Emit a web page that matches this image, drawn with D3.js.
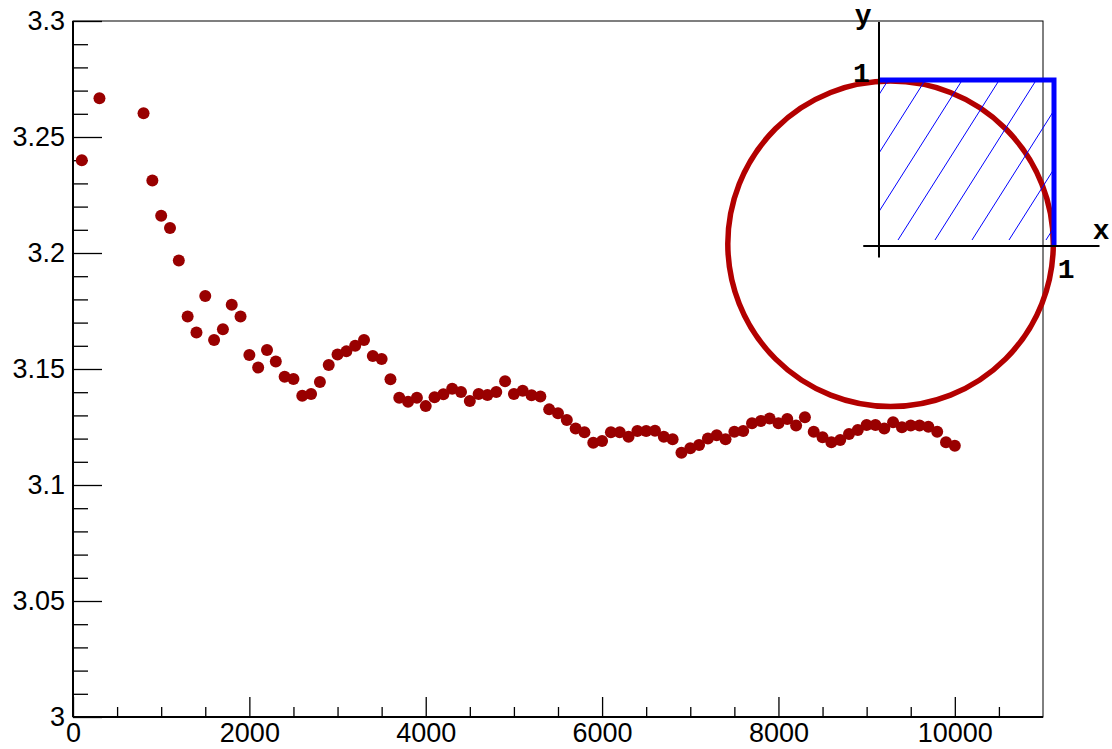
<!DOCTYPE html>
<html>
<head>
<meta charset="utf-8">
<script src="https://cdn.jsdelivr.net/npm/d3@7"></script>
<style>
  body { margin: 0; background: #fff; }
  text { font-family: "Liberation Sans", Arial, sans-serif; }
</style>
</head>
<body>
<div id="chart"></div>
<script>
//Data: number of throws vs estimate of pi//
var throws = [100, 300, 800, 900, 1000, 1100, 1200, 1300, 1400, 1500, 1600, 1700, 1800, 1900,
  2000, 2100, 2200, 2300, 2400, 2500, 2600, 2700, 2800, 2900, 3000, 3100, 3200, 3300, 3400,
  3500, 3600, 3700, 3800, 3900, 4000, 4100, 4200, 4300, 4400, 4500, 4600, 4700, 4800, 4900,
  5000, 5100, 5200, 5300, 5400, 5500, 5600, 5700, 5800, 5900, 6000, 6100, 6200, 6300, 6400,
  6500, 6600, 6700, 6800, 6900, 7000, 7100, 7200, 7300, 7400, 7500, 7600, 7700, 7800, 7900,
  8000, 8100, 8200, 8300, 8400, 8500, 8600, 8700, 8800, 8900, 9000, 9100, 9200, 9300, 9400,
  9500, 9600, 9700, 9800, 9900, 10000];
var piEstimate = [3.2400, 3.2667, 3.2602, 3.2312, 3.2161, 3.2108, 3.1968, 3.1726, 3.1657, 3.1815,
  3.1625, 3.1671, 3.1777, 3.1726, 3.1560, 3.1506, 3.1582, 3.1532, 3.1467, 3.1457, 3.1385,
  3.1392, 3.1444, 3.1517, 3.1562, 3.1576, 3.1600, 3.1625, 3.1556, 3.1543, 3.1456, 3.1376,
  3.1359, 3.1376, 3.1340, 3.1378, 3.1391, 3.1415, 3.1401, 3.1362, 3.1392, 3.1388, 3.1401,
  3.1447, 3.1392, 3.1406, 3.1387, 3.1381, 3.1326, 3.1309, 3.1280, 3.1244, 3.1227, 3.1182,
  3.1190, 3.1227, 3.1227, 3.1208, 3.1233, 3.1233, 3.1234, 3.1208, 3.1197, 3.1139, 3.1158,
  3.1172, 3.1200, 3.1214, 3.1197, 3.1230, 3.1233, 3.1266, 3.1276, 3.1287, 3.1266, 3.1284,
  3.1256, 3.1292, 3.1230, 3.1206, 3.1184, 3.1194, 3.1220, 3.1237, 3.1259, 3.1259, 3.1244,
  3.1270, 3.1249, 3.1256, 3.1256, 3.1251, 3.1230, 3.1184, 3.1169];

//Axis ticks//
var xMajorTicks = [0, 2000, 4000, 6000, 8000, 10000];
var xMinorTicks = [500, 1000, 1500, 2500, 3000, 3500, 4500, 5000, 5500, 6500, 7000, 7500, 8500, 9000, 9500, 10500];
var yMajorTicks = [3, 3.05, 3.1, 3.15, 3.2, 3.25, 3.3];
var yMinorTicks = [3.01, 3.02, 3.03, 3.04, 3.06, 3.07, 3.08, 3.09, 3.11, 3.12, 3.13, 3.14,
  3.16, 3.17, 3.18, 3.19, 3.21, 3.22, 3.23, 3.24, 3.26, 3.27, 3.28, 3.29];
var yTickLabels = ["3", "3.05", "3.1", "3.15", "3.2", "3.25", "3.3"];

//Inset: unit circle sketch with the hatched unit square//
var circleCenter = [0.066, 0.013];
var circleRadius = 0.93;
var squareCorners = [[0, 1], [1, 1], [1, 0]];

var w = 1112;
var h = 749;
var frameL = 73, frameR = 1043, frameT = 21, frameB = 717;

var svg = d3.select("#chart")
  .append("svg")
  .attr("width", w)
  .attr("height", h);

var x = d3.scaleLinear().domain([0, 11000]).range([frameL, frameR]);
var y = d3.scaleLinear().domain([3, 3.3]).range([frameB, frameT]);

//Frame//
svg.append("rect")
  .attr("x", frameL)
  .attr("y", frameT)
  .attr("width", frameR - frameL)
  .attr("height", frameB - frameT)
  .attr("fill", "none")
  .attr("stroke", "#000")
  .attr("stroke-width", 1);

//X axis, minor then major ticks pointing inwards//
svg.append("g")
  .attr("transform", "translate(0," + frameB + ")")
  .call(d3.axisBottom(x).tickValues(xMinorTicks).tickSize(-10).tickFormat(""));

svg.append("g")
  .attr("class", "xmajor")
  .attr("transform", "translate(0," + frameB + ")")
  .call(d3.axisBottom(x).tickValues(xMajorTicks).tickSize(-20).tickPadding(6).tickFormat(d3.format("d")));

//Y axis//
svg.append("g")
  .attr("transform", "translate(" + frameL + ",0)")
  .call(d3.axisLeft(y).tickValues(yMinorTicks).tickSize(-15).tickFormat(""));

svg.append("g")
  .attr("class", "ymajor")
  .attr("transform", "translate(" + frameL + ",0)")
  .call(d3.axisLeft(y).tickValues(yMajorTicks).tickSize(-29).tickPadding(8)
    .tickFormat(function(d, i) { return yTickLabels[i]; }));

svg.selectAll(".domain").remove();
svg.selectAll(".tick line").attr("stroke", "#000").attr("stroke-width", 1.3);
svg.selectAll(".tick text")
  .attr("fill", "#000")
  .style("font-family", "'Liberation Sans', Arial, sans-serif")
  .style("font-size", "27px");

//Axis lines a bit heavier than the frame//
svg.append("line")
  .attr("x1", frameL).attr("x2", frameR)
  .attr("y1", frameB).attr("y2", frameB)
  .attr("stroke", "#000").attr("stroke-width", 2);
svg.append("line")
  .attr("x1", frameL).attr("x2", frameL)
  .attr("y1", frameT).attr("y2", frameB)
  .attr("stroke", "#000").attr("stroke-width", 2);

//Points//
svg.selectAll("circle.pt")
  .data(throws)
  .enter()
  .append("circle")
  .attr("class", "pt")
  .attr("cx", function(d) { return x(d); })
  .attr("cy", function(d, i) { return y(piEstimate[i]); })
  .attr("r", 6)
  .attr("fill", "#990000");

//Inset drawing//
var ix = d3.scaleLinear().domain([0, 1]).range([879, 1054]);
var iy = d3.scaleLinear().domain([0, 1]).range([246, 80]);

svg.append("ellipse")
  .attr("cx", ix(circleCenter[0]))
  .attr("cy", iy(circleCenter[1]))
  .attr("rx", ix(circleRadius) - ix(0))
  .attr("ry", ix(circleRadius) - ix(0))
  .attr("fill", "none")
  .attr("stroke", "#b30000")
  .attr("stroke-width", 5.5);

//Hatching clipped to the unit square//
svg.append("clipPath")
  .attr("id", "sq")
  .append("rect")
  .attr("x", ix(0))
  .attr("y", iy(1))
  .attr("width", ix(1) - ix(0))
  .attr("height", iy(0) - iy(1));

var slope = 1.58;
var hatchStarts = d3.range(ix(0) - 92, ix(1) + 5, 37);
svg.append("g")
  .attr("clip-path", "url(#sq)")
  .selectAll("line")
  .data(hatchStarts)
  .enter()
  .append("line")
  .attr("x1", function(d) { return d; })
  .attr("y1", iy(0) - 6)
  .attr("x2", function(d) { return d + (iy(0) - iy(1)) / slope; })
  .attr("y2", iy(1) - 6)
  .attr("stroke", "#0000ff")
  .attr("stroke-width", 1);

svg.append("path")
  .datum(squareCorners)
  .attr("d", d3.line().x(function(d) { return ix(d[0]); }).y(function(d) { return iy(d[1]); }))
  .attr("fill", "none")
  .attr("stroke", "#0000ff")
  .attr("stroke-width", 5);

//Inset axes//
svg.append("line")
  .attr("x1", ix(-0.09)).attr("x2", ix(1.26))
  .attr("y1", iy(0)).attr("y2", iy(0))
  .attr("stroke", "#000").attr("stroke-width", 2);
svg.append("line")
  .attr("x1", ix(0)).attr("x2", ix(0))
  .attr("y1", iy(-0.07)).attr("y2", iy(1.35))
  .attr("stroke", "#000").attr("stroke-width", 2);

var insetLabels = [
  {t: "y", px: -0.09, py: 1.34},
  {t: "1", px: -0.1, py: 0.99},
  {t: "x", px: 1.27, py: 0.04},
  {t: "1", px: 1.07, py: -0.19}
];
svg.selectAll("text.inset")
  .data(insetLabels)
  .enter()
  .append("text")
  .attr("class", "inset")
  .attr("x", function(d) { return ix(d.px); })
  .attr("y", function(d) { return iy(d.py); })
  .attr("text-anchor", "middle")
  .style("font-family", "'Liberation Mono', 'Courier New', monospace")
  .style("font-weight", "bold")
  .style("font-size", "28px")
  .text(function(d) { return d.t; });
</script>
</body>
</html>
